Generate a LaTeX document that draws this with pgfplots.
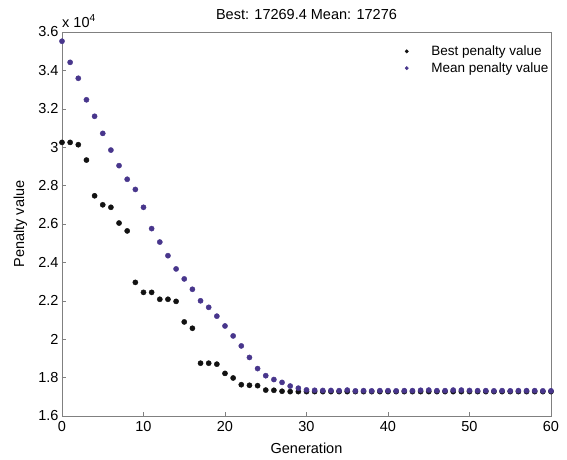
\documentclass[border=0pt]{standalone}
\usepackage{fontspec}
\setmainfont{Liberation Sans}
\usepackage{pgfplots}
\pgfplotsset{compat=1.18}
\definecolor{meanc}{RGB}{72,54,140}
\definecolor{bestc}{RGB}{18,18,18}
\definecolor{axgray}{RGB}{128,128,128}
\newcommand{\fs}{\fontsize{14.5}{17}\selectfont}
\begin{document}
\begin{tikzpicture}
\useasboundingbox (-62pt,-43pt) rectangle (505pt,416pt);
\begin{axis}[
  width=489pt, height=384pt, scale only axis,
  xmin=0, xmax=60, ymin=1.6, ymax=3.6,
  xtick={0,10,20,30,40,50,60},
  ytick={1.6,1.8,2.0,2.2,2.4,2.6,2.8,3.0,3.2,3.4,3.6},
  yticklabels={1.6,1.8,2,2.2,2.4,2.6,2.8,3,3.2,3.4,3.6},
  /pgf/number format/assume math mode=true,
  tick label style={font=\fs},
  xticklabel style={yshift=-2pt},
  axis line style={axgray, line width=0.8pt},
  tick style={axgray, line width=0.6pt},
  tick align=inside, major tick length=4pt,
  xtick pos=bottom, ytick pos=left,
  title={Best: 17269.4 Mean: 17276},
  title style={font=\fs, yshift=3pt},
  xlabel={Generation}, ylabel={Penalty value},
  xlabel style={font=\fs, yshift=-4pt},
  ylabel style={font=\fs, at={(axis description cs:-0.064,0.5)}, anchor=south},
  legend style={draw=none, fill=none, font=\fontsize{13.5}{15.5}\selectfont,
    at={(rel axis cs:0.695,0.975)}, anchor=north west, row sep=1.5pt,
    /tikz/every odd column/.append style={column sep=21pt}},
  legend image code/.code={\draw[#1, mark size=1.7pt] plot coordinates {(0.2cm,0cm)};},
  legend cell align=left,
  clip=false,
]
\addplot[only marks, mark=*, mark size=2.6pt, color=bestc, mark options={draw=bestc, fill=bestc}] coordinates {
(0,3.025)(1,3.025)(2,3.013)(3,2.933)(4,2.747)(5,2.700)(6,2.687)(7,2.605)(8,2.564)(9,2.296)
(10,2.244)(11,2.244)(12,2.208)(13,2.208)(14,2.197)(15,2.090)(16,2.057)(17,1.875)(18,1.875)(19,1.870)
(20,1.822)(21,1.798)(22,1.763)(23,1.760)(24,1.758)(25,1.735)(26,1.734)(27,1.729)(28,1.727)(29,1.727)
(30,1.727)(31,1.727)(32,1.727)(33,1.727)(34,1.727)(35,1.727)(36,1.727)(37,1.727)(38,1.727)(39,1.727)
(40,1.727)(41,1.727)(42,1.727)(43,1.727)(44,1.727)(45,1.727)(46,1.727)(47,1.727)(48,1.727)(49,1.727)
(50,1.727)(51,1.727)(52,1.727)(53,1.727)(54,1.727)(55,1.727)(56,1.727)(57,1.727)(58,1.727)(59,1.727)
(60,1.727)
};
\addlegendentry{Best penalty value}
\addplot[only marks, mark=*, mark size=2.6pt, color=meanc, mark options={draw=meanc, fill=meanc}] coordinates {
(0,3.552)(1,3.442)(2,3.359)(3,3.247)(4,3.161)(5,3.072)(6,2.985)(7,2.904)(8,2.833)(9,2.780)
(10,2.687)(11,2.576)(12,2.506)(13,2.435)(14,2.366)(15,2.314)(16,2.260)(17,2.200)(18,2.166)(19,2.120)
(20,2.069)(21,2.017)(22,1.965)(23,1.905)(24,1.847)(25,1.810)(26,1.790)(27,1.775)(28,1.756)(29,1.745)
(30,1.736)(31,1.734)(32,1.733)(33,1.733)(34,1.732)(35,1.735)(36,1.731)(37,1.732)(38,1.731)(39,1.732)
(40,1.732)(41,1.731)(42,1.732)(43,1.732)(44,1.734)(45,1.735)(46,1.732)(47,1.732)(48,1.735)(49,1.735)
(50,1.733)(51,1.732)(52,1.732)(53,1.731)(54,1.732)(55,1.731)(56,1.732)(57,1.732)(58,1.732)(59,1.731)
(60,1.731)
};
\addlegendentry{Mean penalty value}
\node[anchor=base west, font=\fs, inner sep=0pt] at (rel axis cs:0,1) [yshift=5pt] {x 10\textsuperscript{4}};
\end{axis}
\end{tikzpicture}
\end{document}
